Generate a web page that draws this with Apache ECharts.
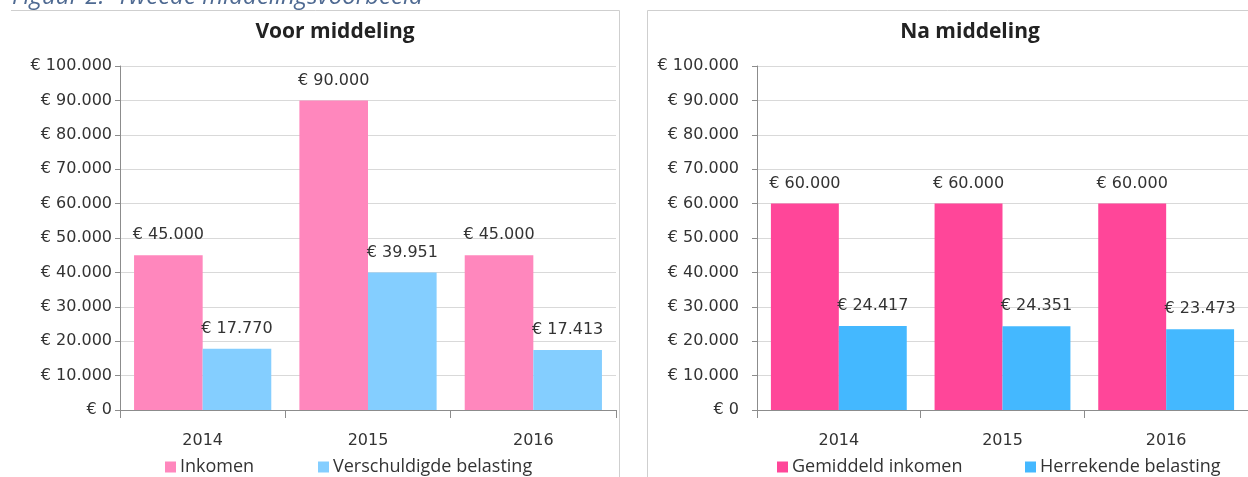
<!DOCTYPE html>
<html>
<head>
<meta charset="utf-8">
<script src="https://cdn.jsdelivr.net/npm/echarts@6/dist/echarts.min.js"></script>
<style>
html, body { margin: 0; padding: 0; background: #fff; }
#chart { width: 1248px; height: 477px; }
</style>
</head>
<body>
<div id="chart"></div>
<script>
var years = ['2014', '2015', '2016'];
var inkomen = [45000, 90000, 45000];
var verschuldigd = [17770, 39951, 17413];
var gemiddeld = [60000, 60000, 60000];
var herrekend = [24417, 24351, 23473];

function euro(v) {
	return '€ ' + String(v).replace(/\B(?=(\d{3})+(?!\d))/g, '.');
}

var labelFont = 'DejaVu Sans';
var textFont = 'Open Sans';

function yAxis(idx, margin) {
	return {
		type: 'value', gridIndex: idx, min: 0, max: 100000, interval: 10000,
		axisLine: { show: true, lineStyle: { color: '#8c8c8c' } },
		axisTick: { show: true, length: 5, lineStyle: { color: '#8c8c8c' } },
		splitLine: { lineStyle: { color: '#d9d9d9' } },
		axisLabel: { margin: margin, color: '#333', fontFamily: labelFont, fontSize: 16, formatter: euro }
	};
}
function xAxis(idx) {
	return {
		type: 'category', gridIndex: idx, data: years,
		axisLine: { lineStyle: { color: '#8c8c8c' } },
		axisTick: { show: true, length: 8, lineStyle: { color: '#8c8c8c' } },
		axisLabel: { margin: 23, color: '#333', fontFamily: labelFont, fontSize: 16 }
	};
}
function bar(name, data, idx, color) {
	return {
		name: name, type: 'bar', data: data, xAxisIndex: idx, yAxisIndex: idx,
		barGap: '0%', barCategoryGap: '17%',
		itemStyle: { color: color },
		label: {
			show: true, position: 'top', distance: 12, color: '#333',
			fontFamily: labelFont, fontSize: 16,
			formatter: function (p) { return euro(p.value); }
		}
	};
}
function legend(name, left) {
	return {
		data: [name], left: left, top: 453, icon: 'rect', itemWidth: 11, itemHeight: 11, itemGap: 0,
		textStyle: { fontFamily: textFont, fontSize: 18, color: '#333', padding: [0, 0, 0, -1] }
	};
}

var chart = echarts.init(document.getElementById('chart'));
chart.setOption({
	animation: false,
	title: [
		{ text: 'Voor middeling', left: 330, top: 17, textAlign: 'center',
			textStyle: { fontFamily: textFont, fontSize: 21, fontWeight: 'bold', color: '#222' } },
		{ text: 'Na middeling', left: 965, top: 17, textAlign: 'center',
			textStyle: { fontFamily: textFont, fontSize: 21, fontWeight: 'bold', color: '#222' } }
	],
	grid: [
		{ left: 120, top: 66, width: 496, height: 344 },
		{ left: 757, top: 66, width: 492, height: 344 }
	],
	xAxis: [xAxis(0), xAxis(1)],
	yAxis: [yAxis(0, 8), yAxis(1, 18)],
	legend: [
		legend('Inkomen', 160),
		legend('Verschuldigde belasting', 313),
		legend('Gemiddeld inkomen', 772),
		legend('Herrekende belasting', 1020)
	],
	series: [
		bar('Inkomen', inkomen, 0, '#ff87bd'),
		bar('Verschuldigde belasting', verschuldigd, 0, '#84ceff'),
		bar('Gemiddeld inkomen', gemiddeld, 1, '#ff4699'),
		bar('Herrekende belasting', herrekend, 1, '#44b8ff')
	],
	graphic: [
		{ type: 'text', left: 12, top: -15, silent: true,
			style: { text: 'Figuur 2:  Tweede middelingsvoorbeeld', fontFamily: textFont, fontStyle: 'italic',
				fontSize: 24, fill: '#4f6a92' } },
		{ type: 'line', shape: { x1: 11, y1: 10.5, x2: 619.5, y2: 10.5 }, style: { stroke: '#cfcfcf', lineWidth: 1 } },
		{ type: 'line', shape: { x1: 619.5, y1: 10.5, x2: 619.5, y2: 477 }, style: { stroke: '#cfcfcf', lineWidth: 1 } },
		{ type: 'line', shape: { x1: 647.5, y1: 10.5, x2: 1248, y2: 10.5 }, style: { stroke: '#cfcfcf', lineWidth: 1 } },
		{ type: 'line', shape: { x1: 647.5, y1: 10.5, x2: 647.5, y2: 477 }, style: { stroke: '#cfcfcf', lineWidth: 1 } }
	]
});
</script>
</body>
</html>
